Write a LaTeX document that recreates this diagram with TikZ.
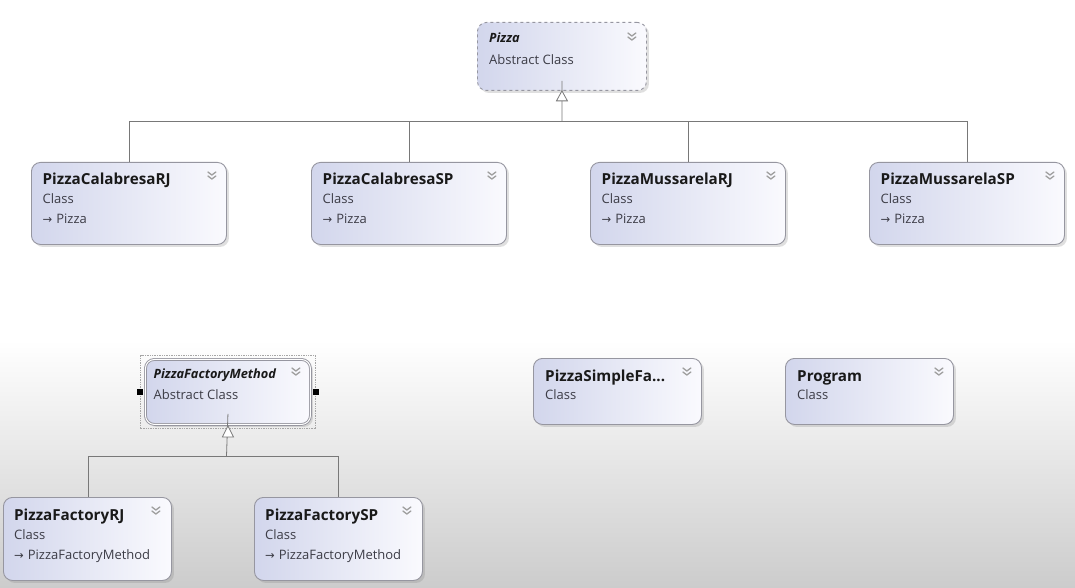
\documentclass[tikz,border=0pt]{standalone}
\usepackage{fontspec}
\setmainfont{Open Sans}
\newfontfamily\symfont{DejaVu Sans}
\usetikzlibrary{shadows}
\definecolor{boxl}{RGB}{210,214,236}
\definecolor{boxr}{RGB}{250,250,254}
\definecolor{boxline}{RGB}{150,150,160}
\definecolor{conn}{RGB}{120,120,120}
\definecolor{txt}{RGB}{60,60,70}
\definecolor{bgbot}{RGB}{204,204,204}
\begin{document}
\begin{tikzpicture}[x=1pt,y=-1pt,
  cls/.style={draw=boxline, line width=0.9pt, rounded corners=9pt, left color=boxl, right color=boxr,
     drop shadow={opacity=0.25, shadow xshift=2.5pt, shadow yshift=-2.5pt},
     inner sep=0pt, anchor=north west},
  ttl/.style={anchor=base west, inner sep=0pt, font=\fontsize{15.2}{17}\selectfont\bfseries, text=black!90},
  ittl/.style={anchor=base west, inner sep=0pt, font=\fontsize{12.8}{14}\selectfont\bfseries\itshape, text=black!90},
  sub/.style={anchor=base west, inner sep=0pt, font=\fontsize{13}{15}\selectfont, text=txt},
  conline/.style={draw=conn, line width=0.8pt},
  tri/.style={draw=conn, line width=0.8pt, fill=white},
  chev/.pic={\draw[gray!75, line width=1.3pt, line cap=round, line join=round] (-4,0) -- (0,3) -- (4,0) (-4,4) -- (0,7) -- (4,4);},
  handle/.style={fill=black, inner sep=0pt, minimum size=6pt}
]
\useasboundingbox (0,0) rectangle (1075,588);
% background
\fill[white] (0,0) rectangle (1075,588);
\shade[top color=white, bottom color=bgbot] (0,340) rectangle (1075,588);

\newcommand\inh{{\symfont\fontsize{11.5}{12}\selectfont →}\hspace{4pt}}

% Pizza (abstract)
\node[cls, dashed, minimum width=169pt, minimum height=68pt] (pizza) at (477,22) {};
\node[ittl] (pizzaT) at ([shift={(12,20.5)}]pizza.north west) {Pizza};
\node[sub] (pizzaS) at ([shift={(12,42.5)}]pizza.north west) {Abstract Class};
\pic at ([shift={(-15,11)}]pizza.north east) {chev};

% four concrete pizzas
\foreach \nm/\lbl/\xx in {pcrj/PizzaCalabresaRJ/31, pcsp/PizzaCalabresaSP/311, pmrj/PizzaMussarelaRJ/590, pmsp/PizzaMussarelaSP/869}{
  \node[cls, minimum width=195pt, minimum height=82pt] (\nm) at (\xx,162) {};
  \node[ttl] (\nm T) at ([shift={(11.5,22)}]\nm.north west) {\lbl};
  \node[sub] (\nm S) at ([shift={(11.5,42)}]\nm.north west) {Class};
  \node[sub] (\nm B) at ([shift={(11.5,61.5)}]\nm.north west) {\inh Pizza};
  \pic at ([shift={(-15,10)}]\nm.north east) {chev};
}

% inheritance tree for Pizza
\coordinate (pizzaTri) at ([yshift=10]pizza.south);
\coordinate (bus1) at (562,121);
\draw[conline] (pizzaTri) -- (bus1);
\draw[conline] (pcrj.north) |- (bus1);
\draw[conline] (pmsp.north) |- (bus1);
\draw[conline] (pcsp.north) -- (pcsp.north |- bus1);
\draw[conline] (pmrj.north) -- (pmrj.north |- bus1);
\draw[tri] (pizza.south) -- ++(5.5,10) -- ++(-11,0) -- cycle;

% PizzaFactoryMethod (abstract, selected)
\node[draw=gray!70, densely dotted, line width=1.4pt, minimum width=175pt, minimum height=73pt, inner sep=0pt, anchor=north west] (sel) at (140,355) {};
\node[cls, double=white, double distance=1pt, draw=boxline, minimum width=165pt, minimum height=65pt] (pfm) at (145,359) {};
\node[ittl] (pfmT) at ([shift={(8.5,19)}]pfm.north west) {PizzaFactoryMethod};
\node[sub] (pfmS) at ([shift={(8.5,40)}]pfm.north west) {Abstract Class};
\pic at ([shift={(-15,9)}]pfm.north east) {chev};
\node[handle] (hl) at (sel.west) {};
\node[handle] (hr) at (sel.east) {};

% factories
\foreach \nm/\lbl/\xx in {pfrj/PizzaFactoryRJ/3, pfsp/PizzaFactorySP/254}{
  \node[cls, minimum width=168pt, minimum height=83pt] (\nm) at (\xx,497) {};
  \node[ttl] (\nm T) at ([shift={(11,23)}]\nm.north west) {\lbl};
  \node[sub] (\nm S) at ([shift={(11,42.5)}]\nm.north west) {Class};
  \node[sub] (\nm B) at ([shift={(11,62)}]\nm.north west) {\inh PizzaFactoryMethod};
  \pic at ([shift={(-16,10)}]\nm.north east) {chev};
}
\coordinate (bus2) at (226.5,456);
\draw[conline] ([yshift=11]pfm.south) -- (bus2);
\draw[conline] ([xshift=-84]pfrj.north east) |- (bus2);
\draw[conline] ([xshift=84]pfsp.north west) |- (bus2);
\draw[tri] (pfm.south) ++(0,1) -- ++(5.5,11) -- ++(-11,0) -- cycle;

% standalone classes
\node[cls, minimum width=168pt, minimum height=66pt] (psf) at (533,358) {};
\node[ttl] (psfT) at ([shift={(12,23)}]psf.north west) {PizzaSimpleFa...};
\node[sub] (psfS) at ([shift={(12,41)}]psf.north west) {Class};
\pic at ([shift={(-15,10)}]psf.north east) {chev};

\node[cls, minimum width=168pt, minimum height=66pt] (prog) at (785,358) {};
\node[ttl] (progT) at ([shift={(12,23)}]prog.north west) {Program};
\node[sub] (progS) at ([shift={(12,41)}]prog.north west) {Class};
\pic at ([shift={(-15,10)}]prog.north east) {chev};
\end{tikzpicture}
\end{document}
